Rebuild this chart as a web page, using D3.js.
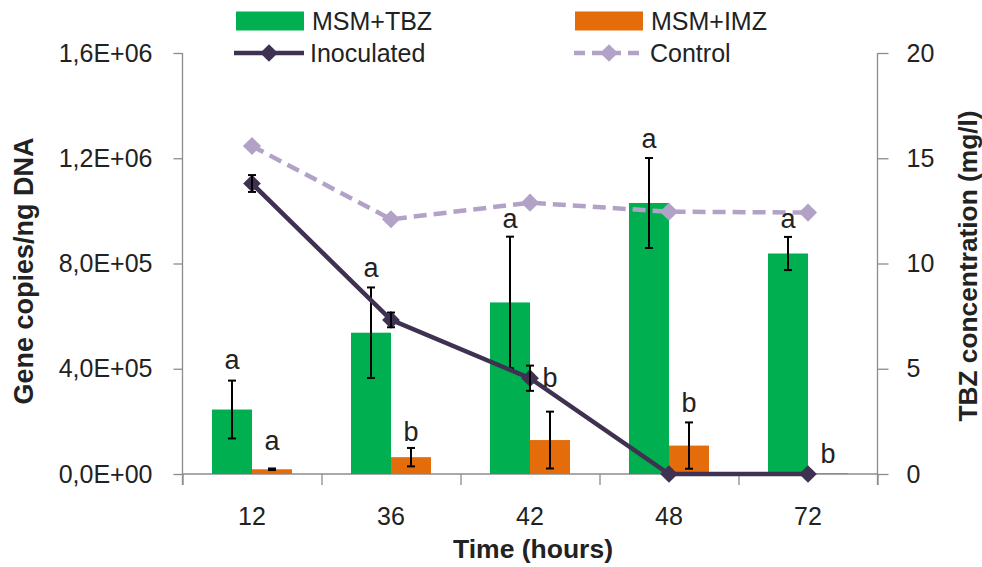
<!DOCTYPE html>
<html>
<head>
<meta charset="utf-8">
<script src="https://cdn.jsdelivr.net/npm/d3@7"></script>
<style>
  html, body { margin: 0; padding: 0; background: #fff; }
  svg { display: block; }
  text { font-family: "Liberation Sans", Arial, sans-serif; fill: #222; }
</style>
</head>
<body>
<svg id="chart" width="982" height="567"></svg>
<script>
// ---- data ----
const categories = ["12", "36", "42", "48", "72"];
const seriesNames = ["MSM+TBZ", "MSM+IMZ"];
const tbzGenes = [245000, 537000, 652000, 1030000, 838000];
const tbzErr = [110000, 172000, 250000, 171000, 63000];
const imzGenes = [18000, 64000, 129000, 108000, 3000];
const imzErr = [3000, 35000, 108000, 88000, 0];
const tbzLetters = ["a", "a", "a", "a", "a"];
const imzLetters = ["a", "b", "b", "b", "b"];
const tbzLetterAt = [399000, 749000, 935000, 1239000, 935000];
const imzLetterAt = [91000, 125000, 331000, 236000, 42000];
const inoculated = [13.8, 7.32, 4.55, 0, 0];
const inoculatedErr = [0.4, 0.35, 0.6, 0, 0];
const control = [15.58, 12.1, 12.89, 12.46, 12.42];
const leftTicks = [0, 400000, 800000, 1200000, 1600000];
const leftTickLabels = ["0,0E+00", "4,0E+05", "8,0E+05", "1,2E+06", "1,6E+06"];
const rightTicks = [0, 5, 10, 15, 20];

// ---- layout ----
const svg = d3.select("#chart");
const L = 182.5, R = 877.5, T = 53, B = 474;
const colors = { tbz: "#00b050", imz: "#e46c0a", inoc: "#3f3151", ctrl: "#b3a2c7", axis: "#8c8c8c" };

const x = d3.scaleBand().domain(categories).range([L, R]).paddingInner(0.4245).paddingOuter(0.21225);
const xs = d3.scaleBand().domain(seriesNames).range([0, x.bandwidth()]);
const yL = d3.scaleLinear().domain([0, 1600000]).range([B, T]);
const yR = d3.scaleLinear().domain([0, 20]).range([B, T]);
const cx = c => x(c) + x.bandwidth() / 2;
const gap = (x.step() - x.bandwidth()) / 2;

// ---- axes ----
const leftAxis = d3.axisLeft(yL).tickValues(leftTicks).tickFormat((d, i) => leftTickLabels[i]).tickSize(9).tickPadding(21);
const gL = svg.append("g").attr("transform", `translate(${L},0)`).call(leftAxis);
const rightAxis = d3.axisRight(yR).tickValues(rightTicks).tickFormat(d3.format("d")).tickSize(11).tickPadding(18);
const gR = svg.append("g").attr("transform", `translate(${R},0)`).call(rightAxis);
const tickPos = categories.map(c => x(c) - gap).concat([R]);
const xScaleLin = d3.scaleIdentity();
const gX = svg.append("g").attr("transform", `translate(0,${B})`)
  .call(d3.axisBottom(xScaleLin).tickValues(tickPos).tickFormat("").tickSize(11));
gX.select(".domain").attr("d", `M${L},0H${R}`);
[gL, gR, gX].forEach(g => {
  g.selectAll(".domain").attr("stroke", colors.axis).attr("stroke-width", 1.3);
  g.selectAll(".tick line").attr("stroke", colors.axis).attr("stroke-width", 1.3);
  g.selectAll(".tick text").attr("font-size", 25).attr("font-family", "Liberation Sans, Arial, sans-serif").attr("fill", "#222");
});
gL.select(".domain").attr("d", `M0,${B + 11}V${T}`);
gR.select(".domain").attr("d", `M0,${B + 11}V${T}`);

// category labels
svg.append("g").selectAll("text").data(categories).join("text")
  .attr("x", d => cx(d)).attr("y", 525).attr("text-anchor", "middle")
  .attr("font-size", 25).text(d => d);

// titles
svg.append("text").attr("x", 533).attr("y", 558).attr("text-anchor", "middle")
  .attr("font-size", 26.5).attr("font-weight", "bold").text("Time (hours)");
svg.append("text").attr("transform", "translate(33,271) rotate(-90)").attr("text-anchor", "middle")
  .attr("font-size", 27).attr("font-weight", "bold").text("Gene copies/ng DNA");
svg.append("text").attr("transform", "translate(977,266) rotate(-90)").attr("text-anchor", "middle")
  .attr("font-size", 26.3).attr("font-weight", "bold").text("TBZ concentration (mg/l)");

// ---- bars ----
const barData = categories.map((c, i) => [
  { c, s: seriesNames[0], v: tbzGenes[i], e: tbzErr[i], letter: tbzLetters[i], at: tbzLetterAt[i], color: colors.tbz },
  { c, s: seriesNames[1], v: imzGenes[i], e: imzErr[i], letter: imzLetters[i], at: imzLetterAt[i], color: colors.imz }
]).flat();

svg.append("g").selectAll("rect").data(barData).join("rect")
  .attr("x", d => x(d.c) + xs(d.s)).attr("width", xs.bandwidth())
  .attr("y", d => yL(d.v)).attr("height", d => B - yL(d.v))
  .attr("fill", d => d.color);

// bar error bars
const errG = svg.append("g").attr("stroke", "#000").attr("stroke-width", 2);
barData.filter(d => d.e > 0).forEach(d => {
  const px = x(d.c) + xs(d.s) + xs.bandwidth() / 2;
  const y1 = yL(d.v + d.e), y2 = yL(Math.max(0, d.v - d.e));
  errG.append("line").attr("x1", px).attr("x2", px).attr("y1", y1).attr("y2", y2);
  errG.append("line").attr("x1", px - 4).attr("x2", px + 4).attr("y1", y1).attr("y2", y1);
  errG.append("line").attr("x1", px - 4).attr("x2", px + 4).attr("y1", y2).attr("y2", y2);
});

// ---- lines ----
const diamond = d3.symbol().type(d3.symbolDiamond2);
const lineGen = d3.line().x((d, i) => cx(categories[i])).y(d => yR(d));

svg.append("path").datum(control).attr("d", lineGen)
  .attr("fill", "none").attr("stroke", colors.ctrl).attr("stroke-width", 4.5)
  .attr("stroke-dasharray", "13,7");
svg.append("g").selectAll("path").data(control).join("path")
  .attr("transform", (d, i) => `translate(${cx(categories[i])},${yR(d)})`)
  .attr("d", diamond.size(210)).attr("fill", colors.ctrl);

svg.append("path").datum(inoculated).attr("d", lineGen)
  .attr("fill", "none").attr("stroke", colors.inoc).attr("stroke-width", 4.5);
svg.append("g").selectAll("path").data(inoculated).join("path")
  .attr("transform", (d, i) => `translate(${cx(categories[i])},${yR(d)})`)
  .attr("d", diamond.size(200)).attr("fill", colors.inoc);

const lerr = svg.append("g").attr("stroke", "#000").attr("stroke-width", 2);
inoculated.forEach((v, i) => {
  const e = inoculatedErr[i];
  if (e <= 0) return;
  const px = cx(categories[i]);
  const y1 = yR(v + e), y2 = yR(v - e);
  lerr.append("line").attr("x1", px).attr("x2", px).attr("y1", y1).attr("y2", y2);
  lerr.append("line").attr("x1", px - 4).attr("x2", px + 4).attr("y1", y1).attr("y2", y1);
  lerr.append("line").attr("x1", px - 4).attr("x2", px + 4).attr("y1", y2).attr("y2", y2);
});

// ---- significance letters ----
svg.append("g").selectAll("text").data(barData).join("text")
  .attr("x", d => x(d.c) + xs(d.s) + xs.bandwidth() / 2)
  .attr("y", d => yL(d.at))
  .attr("text-anchor", "middle")
  .attr("font-family", "Liberation Serif, DejaVu Serif, serif")
  .attr("font-size", 27).attr("fill", "#000")
  .text(d => d.letter);

// ---- legend ----
const lg = svg.append("g");
const legendItems = [
  { name: "MSM+TBZ", kind: "rect", color: colors.tbz, x: 236, y: 21 },
  { name: "MSM+IMZ", kind: "rect", color: colors.imz, x: 575, y: 21 },
  { name: "Inoculated", kind: "line", color: colors.inoc, x: 234, y: 53 },
  { name: "Control", kind: "dash", color: colors.ctrl, x: 574, y: 53 }
];
legendItems.forEach(it => {
  if (it.kind === "rect") {
    lg.append("rect").attr("x", it.x).attr("y", it.y - 9.5).attr("width", 68).attr("height", 19).attr("fill", it.color);
  } else {
    lg.append("line").attr("x1", it.x).attr("x2", it.x + 70).attr("y1", it.y).attr("y2", it.y)
      .attr("stroke", it.color).attr("stroke-width", 4.5)
      .attr("stroke-dasharray", it.kind === "dash" ? "11,7" : null);
    lg.append("path").attr("transform", `translate(${it.x + 35},${it.y})`)
      .attr("d", diamond.size(200)).attr("fill", it.color);
  }
  lg.append("text").attr("x", it.x + 76).attr("y", it.y + 9).attr("font-size", 25).text(it.name);
});
</script>
</body>
</html>
